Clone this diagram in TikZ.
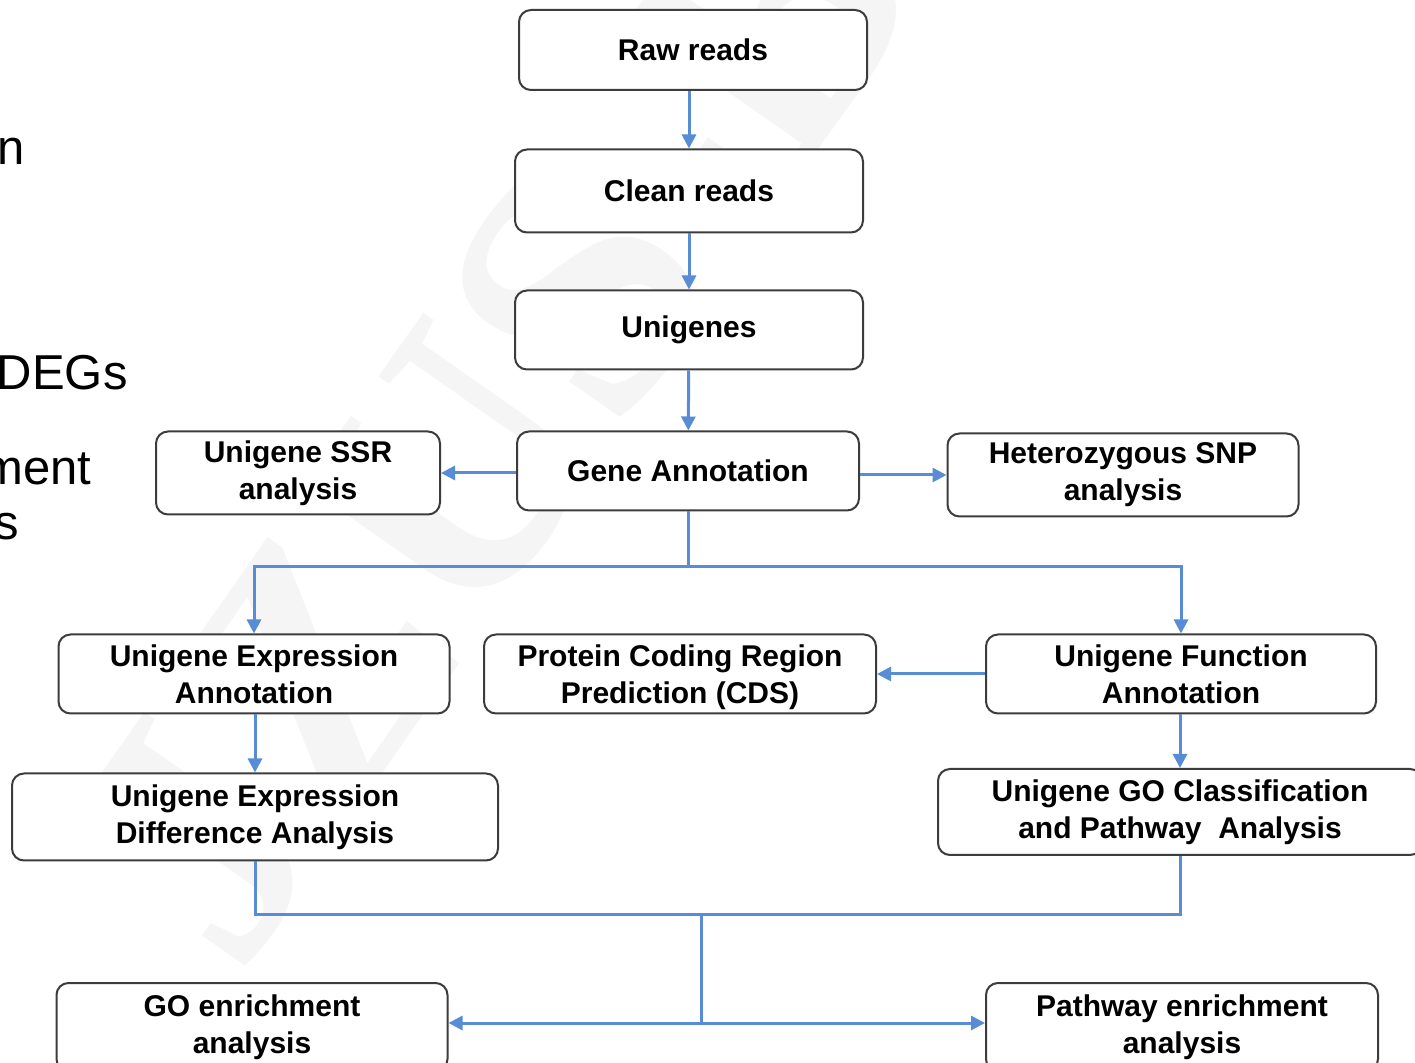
\documentclass[tikz,border=0pt]{standalone}
\usepackage{fontspec}
\setmainfont{Liberation Sans}
\newfontfamily\wmfont{Liberation Serif}
\usetikzlibrary{arrows.meta}
\definecolor{arrblue}{RGB}{88,140,212}
\definecolor{boxline}{RGB}{60,60,60}
\tikzset{
  box/.style={draw=boxline, line width=1pt, rounded corners=6pt, fill=white,
    align=center, font=\fontsize{15pt}{18.5pt}\selectfont\bfseries, inner sep=0pt},
  conn/.style={draw=arrblue, line width=1.5pt},
  arr/.style={conn, -{Triangle[length=7pt,width=7pt]}},
  frag/.style={font=\fontsize{24.5pt}{29pt}\selectfont, inner sep=0pt, anchor=base east}
}
\begin{document}
\begin{tikzpicture}[x=0.5pt,y=-0.5pt]
\useasboundingbox (0,0) rectangle (1415,1063);
\clip (0,0) rectangle (1415,1063);
\fill[white] (0,0) rectangle (1415,1063);
% watermark
\node[text=black!4, rotate=55, font=\wmfont\fontsize{175pt}{175pt}\selectfont\bfseries] (wm) at (490,420) {JZUS-B};
% cut-off text at left
\node[frag] (f1) at (25,165) {n};
\node[frag] (f2) at (128,390) {DEGs};
\node[frag] (f3) at (92,485) {ment};
\node[frag] (f4) at (19,540) {s};
% boxes
\node[box, minimum width=174pt, minimum height=40pt] (raw) at (693,50) {Raw reads};
\node[box, minimum width=174pt, minimum height=41.5pt] (clean) at (689,191) {Clean reads};
\node[box, minimum width=174pt, minimum height=39.5pt] (uni) at (689,330) {Unigenes};
\node[box, minimum width=171pt, minimum height=39.5pt] (gene) at (688,471) {Gene Annotation};
\node[box, minimum width=142pt, minimum height=41.5pt] (ssr) at (298,473) {Unigene SSR\\analysis};
\node[box, minimum width=175.5pt, minimum height=41.5pt] (snp) at (1123,475) {Heterozygous SNP\\analysis};
\node[box, minimum width=195.5pt, minimum height=39.5pt] (expann) at (254,674) {Unigene Expression\\Annotation};
\node[box, minimum width=196pt, minimum height=39.5pt] (cds) at (680,674) {\rule{0pt}{14pt}Protein Coding Region\\Prediction (CDS)};
\node[box, minimum width=195pt, minimum height=39.5pt] (funann) at (1181,674) {Unigene Function\\Annotation};
\node[box, minimum width=243pt, minimum height=43.5pt] (diff) at (255,817) {Unigene Expression\\Difference Analysis};
\node[box, minimum width=242pt, minimum height=43pt] (gocls) at (1180,812) {Unigene GO Classification\\and Pathway\ \ Analysis};
\node[box, minimum width=195.5pt, minimum height=44pt] (goenr) at (252,1027) {GO enrichment\\analysis};
\node[box, minimum width=196pt, minimum height=44pt] (pwenr) at (1182,1027) {Pathway enrichment\\analysis};
% connectors
\draw[arr] (raw.south -| clean.north) -- (clean.north);
\draw[arr] (clean) -- (uni);
\draw[arr] (uni) -- (gene);
\draw[arr] (gene.west |- ssr.east) -- (ssr.east);
\draw[arr] (gene.east |- snp.west) -- (snp.west);
\coordinate (j1) at (688,567);
\draw[conn] (gene.south) -- (j1);
\draw[arr] (j1) -| (expann.north);
\draw[arr] (j1) -| (funann.north);
\draw[arr] (funann.west) -- (cds.east);
\draw[arr] (expann.south -| diff.north) -- (diff.north);
\draw[arr] (funann.south -| gocls.north) -- (gocls.north);
\coordinate (j2) at (701,915);
\coordinate (j3) at (701,1023);
\draw[conn] (diff.south) |- (j2) -| (gocls.south);
\draw[conn] (j2) -- (j3);
\draw[arr] (j3) -- (goenr.east |- j3);
\draw[arr] (j3) -- (pwenr.west |- j3);
\end{tikzpicture}
\end{document}
